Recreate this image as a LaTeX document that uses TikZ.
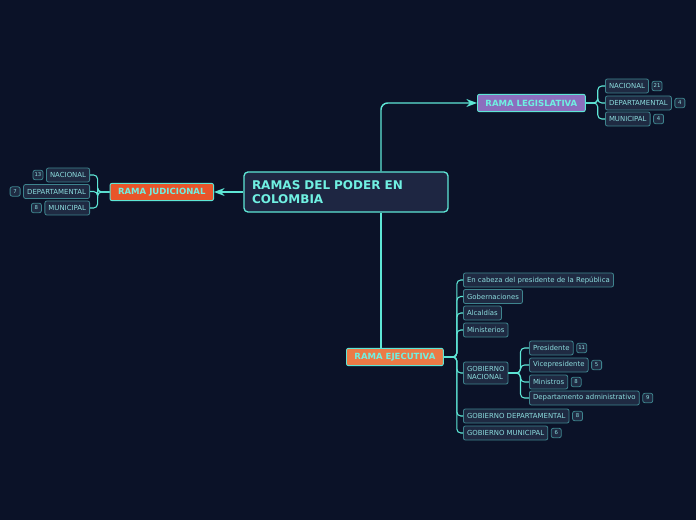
\documentclass[tikz,border=0pt]{standalone}
\usepackage{fontspec}
\setmainfont{DejaVu Sans}
\definecolor{night}{RGB}{11,18,40}
\definecolor{slate}{RGB}{30,38,66}
\definecolor{aqua}{RGB}{94,230,214}
\definecolor{aquatext}{RGB}{112,240,226}
\definecolor{leafline}{RGB}{62,132,142}
\definecolor{leaftext}{RGB}{140,220,222}
\definecolor{leaffill}{RGB}{31,42,66}
\definecolor{redorange}{RGB}{232,85,42}
\definecolor{lavender}{RGB}{140,110,190}
\definecolor{apricot}{RGB}{236,122,70}
\usetikzlibrary{arrows.meta,positioning}

\begin{document}
\begin{tikzpicture}[x=0.75pt,y=-0.75pt,>=Stealth,
  root/.style={rectangle,rounded corners=3pt,draw=aqua,line width=1pt,fill=slate,text=aquatext,font=\bfseries\fontsize{9}{11}\selectfont,align=left,text width=141pt,minimum height=30pt,inner xsep=6pt},
  rama/.style={rectangle,rounded corners=1.5pt,draw=aqua,line width=0.7pt,text=aquatext,font=\bfseries\fontsize{6.4}{7}\selectfont,minimum height=13pt,inner xsep=6pt},
  leaf/.style={rectangle,rounded corners=1.5pt,draw=leafline,line width=0.6pt,fill=leaffill,text=leaftext,font=\fontsize{5.2}{6.2}\selectfont,minimum height=10.5pt,inner xsep=2.7pt,inner ysep=1pt,align=left},
  badge/.style={rectangle,rounded corners=1.5pt,draw=leafline,line width=0.6pt,fill=leaffill,text=leaftext,font=\fontsize{4}{4.5}\selectfont,minimum height=7pt,minimum width=7.5pt,inner sep=1pt},
  arrow/.style={->,line width=1.1pt,draw=aqua,rounded corners=5pt},
  link/.style={line width=1.1pt,draw=aqua,rounded corners=5pt},
  branch/.style={line width=0.8pt,draw=aqua,rounded corners=3pt}]

  \fill[night] (0,0) rectangle (696,520);
  \useasboundingbox (0,0) rectangle (696,520);

  \node[root] (root) at (346,192) {RAMAS DEL PODER EN\\COLOMBIA};

  \node[rama,fill=redorange,anchor=east] (jud) at (214,192) {RAMA JUDICIONAL};
  \node[rama,fill=lavender,anchor=west] (leg) at (477,103) {RAMA LEGISLATIVA};
  \node[rama,fill=apricot,anchor=west] (eje) at (346,357) {RAMA EJECUTIVA};

  \node[leaf,anchor=east] (jnac) at (90,175) {NACIONAL};
  \node[leaf,anchor=east] (jdep) at (90,191.5) {DEPARTAMENTAL};
  \node[leaf,anchor=east] (jmun) at (90,208) {MUNICIPAL};
  \node[badge,left=2pt of jnac] (bjnac) {13};
  \node[badge,left=2pt of jdep] (bjdep) {7};
  \node[badge,left=2pt of jmun] (bjmun) {8};

  \node[leaf,anchor=west] (lnac) at (605,86) {NACIONAL};
  \node[leaf,anchor=west] (ldep) at (605,103) {DEPARTAMENTAL};
  \node[leaf,anchor=west] (lmun) at (605,119) {MUNICIPAL};
  \node[badge,right=2pt of lnac] (blnac) {21};
  \node[badge,right=2pt of ldep] (bldep) {4};
  \node[badge,right=2pt of lmun] (blmun) {4};

  \node[leaf,anchor=west] (cab) at (463,280) {En cabeza del presidente de la República};
  \node[leaf,anchor=west] (gob) at (463,296.5) {Gobernaciones};
  \node[leaf,anchor=west] (alc) at (463,313) {Alcaldías};
  \node[leaf,anchor=west] (min) at (463,330) {Ministerios};
  \node[leaf,anchor=west,minimum height=16.5pt] (gnac) at (463,373) {GOBIERNO\\NACIONAL};
  \node[leaf,anchor=west] (gdep) at (463,416) {GOBIERNO DEPARTAMENTAL};
  \node[leaf,anchor=west] (gmun) at (463,433) {GOBIERNO MUNICIPAL};
  \node[badge,right=2pt of gdep] (bgdep) {8};
  \node[badge,right=2pt of gmun] (bgmun) {6};

  \node[leaf,anchor=west] (pres) at (529,348) {Presidente};
  \node[leaf,anchor=west] (vice) at (529,365) {Vicepresidente};
  \node[leaf,anchor=west] (mins) at (529,382) {Ministros};
  \node[leaf,anchor=west] (dadm) at (529,398) {Departamento administrativo};
  \node[badge,right=2pt of pres] (bpres) {11};
  \node[badge,right=2pt of vice] (bvice) {5};
  \node[badge,right=2pt of mins] (bmins) {8};
  \node[badge,right=2pt of dadm] (bdadm) {9};

  \draw[arrow] (root.west) -- (jud.east);
  \draw[arrow] (root.north -| 381,0) |- (leg.west);
  \draw[link] (root.south -| 381,0) -- (eje.north -| 381,0);

  \foreach \n in {jnac,jdep,jmun}
    \draw[branch] (jud.west) -- ++(-12,0) |- (\n.east);
  \foreach \n in {lnac,ldep,lmun}
    \draw[branch] (leg.east) -- ++(12,0) |- (\n.west);
  \foreach \n in {cab,gob,alc,min,gnac,gdep,gmun}
    \draw[branch] (eje.east) -- ++(13,0) |- (\n.west);
  \foreach \n in {pres,vice,mins,dadm}
    \draw[branch] (gnac.east) -- ++(12,0) |- (\n.west);
\end{tikzpicture}
\end{document}
